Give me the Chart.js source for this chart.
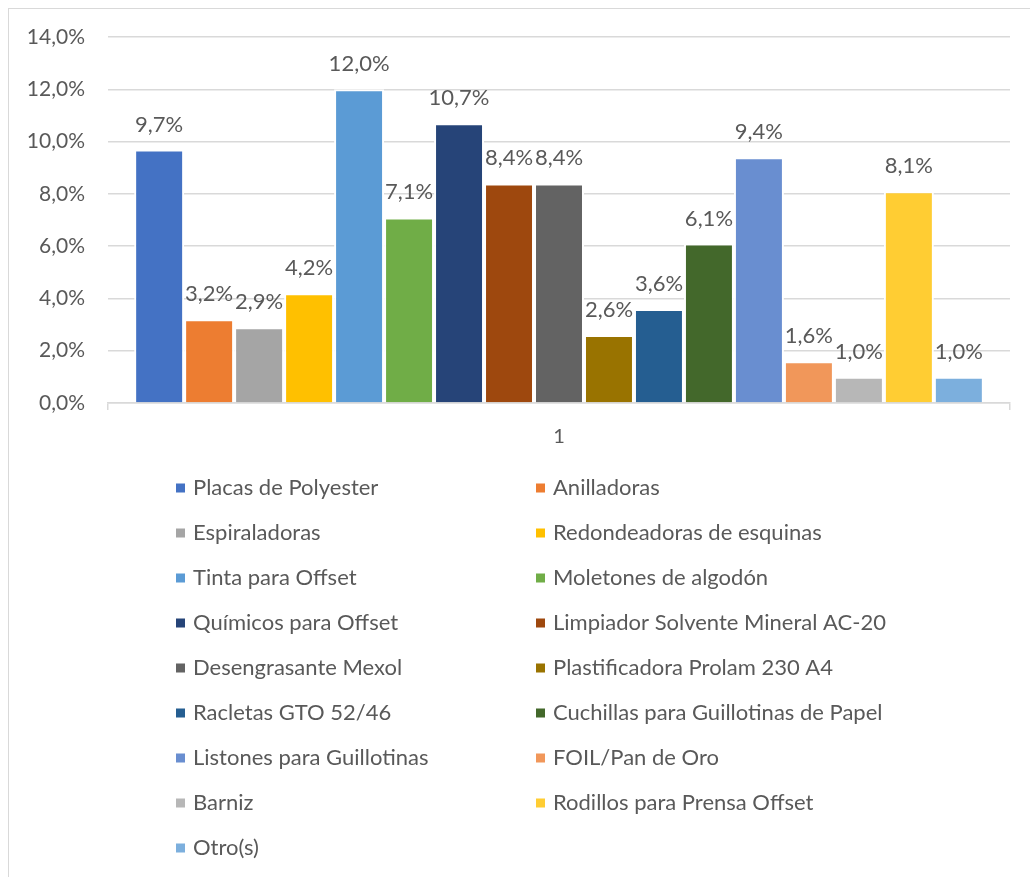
<!DOCTYPE html>
<html>
<head>
<meta charset="utf-8">
<script src="https://cdn.jsdelivr.net/npm/chart.js@4.4.1/dist/chart.umd.min.js"></script>
<style>
  html, body { margin: 0; padding: 0; background: #fff; }
  #wrap { position: relative; width: 1030px; height: 877px; overflow: hidden; }
  #frame { position: absolute; left: 8px; top: 8px; width: 1040px; height: 900px;
           border-left: 1.5px solid #d9d9d9; border-top: 1.5px solid #d9d9d9; }
  #chart { position: absolute; left: 0; top: 0; }
</style>
</head>
<body>
<div id="wrap">
  <div id="frame"></div>
  <canvas id="chart" width="1030" height="877"></canvas>
</div>
<script>
// Insumos - porcentaje de respuestas por producto
const categories = ['1'];
const seriesNames = [
  'Placas de Polyester', 'Anilladoras', 'Espiraladoras', 'Redondeadoras de esquinas',
  'Tinta para Offset', 'Moletones de algodón', 'Químicos para Offset',
  'Limpiador Solvente Mineral AC-20', 'Desengrasante Mexol', 'Plastificadora Prolam 230 A4',
  'Racletas GTO 52/46', 'Cuchillas para Guillotinas de Papel', 'Listones para Guillotinas',
  'FOIL/Pan de Oro', 'Barniz', 'Rodillos para Prensa Offset', 'Otro(s)'
];
const seriesValues = [9.7, 3.2, 2.9, 4.2, 12.0, 7.1, 10.7, 8.4, 8.4, 2.6, 3.6, 6.1, 9.4, 1.6, 1.0, 8.1, 1.0];
const seriesColors = [
  '#4472C4', '#ED7D31', '#A5A5A5', '#FFC000', '#5B9BD5', '#70AD47', '#264478',
  '#9E480E', '#636363', '#997300', '#255E91', '#43682B', '#698ED0', '#F1975A',
  '#B7B7B7', '#FFCD33', '#7CAFDD'
];
const yTicks = [0, 2, 4, 6, 8, 10, 12, 14];

const FONT = 'Lato, "Open Sans", sans-serif';
const TEXT = '#595959';
const GRID = '#d9d9d9';

const pct = v => v.toFixed(1).replace('.', ',') + '%';

// etiquetas de valor encima de cada barra
const valueLabels = {
  id: 'valueLabels',
  afterDatasetsDraw(chart) {
    const ctx = chart.ctx;
    ctx.save();
    ctx.font = '22px ' + FONT;
    ctx.fillStyle = TEXT;
    ctx.textAlign = 'center';
    ctx.textBaseline = 'middle';
    chart.data.datasets.forEach((ds, i) => {
      const bar = chart.getDatasetMeta(i).data[0];
      ctx.fillText(pct(ds.data[0]), bar.x, bar.y - 25);
    });
    ctx.restore();
  }
};

// leyenda en dos columnas bajo el grafico
const twoColLegend = {
  id: 'twoColLegend',
  afterDraw(chart) {
    const ctx = chart.ctx;
    const area = chart.chartArea;
    const x0 = area.left + 68, colGap = 360;
    const y0 = area.bottom + 85, rowGap = 45;
    ctx.save();
    ctx.font = '22px ' + FONT;
    ctx.textBaseline = 'middle';
    ctx.textAlign = 'left';
    chart.data.datasets.forEach((ds, i) => {
      const x = x0 + (i % 2) * colGap;
      const y = y0 + Math.floor(i / 2) * rowGap;
      ctx.fillStyle = ds.backgroundColor;
      ctx.fillRect(x, y - 4.5, 9, 9);
      ctx.fillStyle = TEXT;
      ctx.fillText(ds.label, x + 17, y);
    });
    ctx.restore();
  }
};

new Chart(document.getElementById('chart'), {
  type: 'bar',
  data: {
    labels: categories,
    datasets: seriesNames.map((name, i) => ({
      label: name,
      data: [seriesValues[i]],
      backgroundColor: seriesColors[i],
      borderColor: '#ffffff',
      borderWidth: { left: 2, right: 2, top: 2, bottom: 0 },
      borderSkipped: false,
      barPercentage: 1.0,
      categoryPercentage: 0.942
    }))
  },
  options: {
    responsive: false,
    devicePixelRatio: 1,
    animation: false,
    layout: { padding: { top: 37, right: 20, bottom: 413, left: 0 } },
    plugins: {
      legend: { display: false },
      tooltip: { enabled: false }
    },
    scales: {
      x: {
        grid: { display: true, drawOnChartArea: false, drawTicks: true, tickLength: 7, color: GRID, lineWidth: 1.5 },
        border: { display: true, color: GRID, width: 1.5 },
        ticks: { color: TEXT, font: { family: FONT, size: 20 }, padding: 15 }
      },
      y: {
        min: 0,
        max: 14,
        afterFit: s => { s.width = 108; },
        afterBuildTicks: s => { s.ticks = yTicks.map(v => ({ value: v })); },
        grid: { color: GRID, lineWidth: 1.5, drawTicks: false },
        border: { display: false },
        ticks: { color: TEXT, font: { family: FONT, size: 21 }, padding: 23, callback: v => pct(v) }
      }
    }
  },
  plugins: [valueLabels, twoColLegend]
});
</script>
</body>
</html>
